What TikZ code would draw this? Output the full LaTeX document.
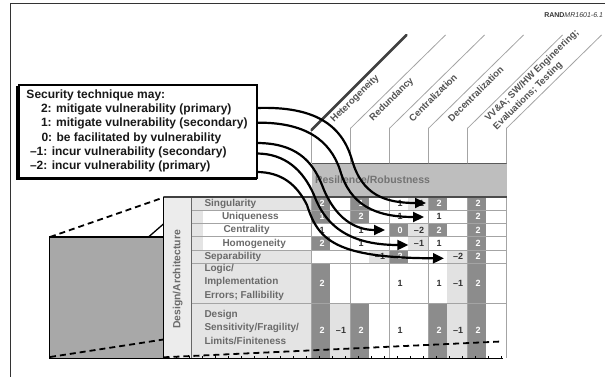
\documentclass[tikz,border=0pt]{standalone}
\usepackage{fontspec}
\setmainfont{Liberation Sans}
\usetikzlibrary{arrows.meta}
\definecolor{darkc}{HTML}{8C8C8C}
\definecolor{lightc}{HTML}{E2E2E2}
\definecolor{labgray}{HTML}{E4E4E4}
\definecolor{dacol}{HTML}{ECECEC}
\definecolor{bargray}{HTML}{BEBEBE}
\definecolor{boxgray}{HTML}{A8A8A8}
\definecolor{txtgray}{HTML}{6A6A6A}
\definecolor{linegray}{HTML}{A4A4A4}
\begin{document}
\begin{tikzpicture}[x=1pt,y=-1pt,
  every node/.style={inner sep=0pt, outer sep=0pt},
  legtxt/.style={anchor=base west, font=\bfseries\fontsize{12}{14}\selectfont, text=black!90},
  rowlbl/.style={anchor=west, font=\bfseries\fontsize{10}{13.4}\selectfont, text=txtgray, align=left},
  collbl/.style={anchor=west, rotate=44.5, font=\bfseries\fontsize{9.5}{11}\selectfont, text=black!68},
  numw/.style={font=\bfseries\fontsize{9}{10}\selectfont, text=white},
  numb/.style={font=\bfseries\fontsize{9}{10}\selectfont, text=black!80},
  gline/.style={linegray, line width=0.8pt},
  hidden/.style={black, line width=1.8pt, dash pattern=on 6pt off 4pt},
  arr/.style={black, line width=2.2pt, -{Triangle[length=11pt,width=10pt]}}]
\useasboundingbox (0,0) rectangle (605,377);
% frame
\draw[black!80, line width=0.8pt] (10,377) -- (10,3) -- (605,3);
\node[anchor=base east, font=\fontsize{7}{8}\selectfont, text=black!80] (rand) at (603,18) {\textbf{RAND}\textit{MR1601-6.1}};
% gray end box
\draw[fill=boxgray, draw=black, line width=1.5pt] (49.5,237) rectangle (163.5,358.3);
\draw[hidden] (50,237) -- (165,197);
\draw[black, line width=1.3pt] (148.5,237) -- (164,223.5);
\draw[hidden] (50,357) -- (163.5,339.5);
% Design/Architecture column
\fill[dacol] (163.5,197) rectangle (191.5,358);
\draw[black, line width=1.2pt] (163.5,197) -- (163.5,358);
\draw[black!60, line width=1.6pt] (191.5,197) -- (191.5,358);
\node[rotate=90, font=\bfseries\fontsize{10.4}{12}\selectfont, text=txtgray] (da) at (177.8,279.5) {Design/Architecture};
% label area
\fill[labgray] (191.5,197) rectangle (311.5,358);
\fill[white] (203,210) rectangle (311.5,250);
% table background
\fill[white] (311.5,197) rectangle (506.5,357.5);
% dark cells (left halves)
\foreach \x/\a/\b/\t [count=\i] in {
  311.5/197/210/2, 311.5/210/223.3/1, 311.5/236.7/250/2, 311.5/263.3/303/2, 311.5/303/357.5/2,
  350.5/197/210/1, 350.5/210/223.3/2, 350.5/303/357.5/2,
  389.5/223.3/236.7/0, 389.5/250/263.3/2,
  428.5/197/210/2, 428.5/223.3/236.7/2, 428.5/303/357.5/2,
  467.5/197/210/2, 467.5/210/223.3/2, 467.5/223.3/236.7/2, 467.5/236.7/250/2,
  467.5/250/263.3/2, 467.5/263.3/303/2, 467.5/303/357.5/2}{
  \fill[darkc] (\x,\a) rectangle ({\x+18.5},\b);
  \node[numw] (dk\i) at ({\x+10.5},{(\a+\b)/2}) {\t};
}
% light cells (right halves)
\foreach \x/\a/\b/\t [count=\i] in {
  311.5/303/357.5/–1, 350.5/250/263.3/–1,
  389.5/197/210/–1, 389.5/223.3/236.7/–2, 389.5/236.7/250/–1,
  428.5/250/263.3/–2, 428.5/263.3/303/–1, 428.5/303/357.5/–1}{
  \fill[lightc] ({\x+18.5},\a) rectangle ({\x+39},\b);
  \node[numb] (lt\i) at ({\x+29.5},{(\a+\b)/2}) {\t};
}
% plain numbers
\foreach \x/\a/\b/\t [count=\i] in {
  311.5/223.3/236.7/1, 350.5/223.3/236.7/1, 350.5/236.7/250/1,
  389.5/197/210/1, 389.5/210/223.3/1, 389.5/263.3/303/1, 389.5/303/357.5/1,
  428.5/210/223.3/1, 428.5/236.7/250/1, 428.5/263.3/303/1}{
  \node[numb] (pl\i) at ({\x+10.5},{(\a+\b)/2}) {\t};
}
% grid
\foreach \y in {210,223.3,236.7,250,263.3,303}
  \draw[gline, line width=0.7pt] (191.5,\y) -- (506.5,\y);
\foreach \x in {311.5,350.5,389.5,428.5,467.5,506.5}
  \draw[gline] (\x,197) -- (\x,357.5);
\draw[black!75, line width=1.2pt] (163.5,197) -- (311.5,197);
% row labels
\node[rowlbl] (r1) at (204.5,203.5) {Singularity};
\node[rowlbl] (r2) at (222,216.8) {Uniqueness};
\node[rowlbl] (r3) at (223.5,230.2) {Centrality};
\node[rowlbl] (r4) at (222.5,243.5) {Homogeneity};
\node[rowlbl] (r5) at (204.5,256.7) {Separability};
\node[rowlbl] (r6) at (204.5,282.2) {Logic/\\Implementation\\Errors; Fallibility};
\node[rowlbl] (r7) at (204.5,327.2) {Design\\Sensitivity/Fragility/\\Limits/Finiteness};
% Resilience bar
\fill[bargray] (311.5,163.3) rectangle (506.5,196.7);
\draw[black!65, line width=1.3pt] (311.5,163.3) -- (506.5,163.3);
\draw[black!70, line width=1.8pt] (311.5,196.7) -- (506.5,196.7);
\node[anchor=west, font=\bfseries\fontsize{10.5}{12}\selectfont, text=black!55] (rr) at (315,180) {Resilience/Robustness};
% column heads
\draw[gline] (311.5,163.3) -- (311.5,130);
\draw[black!75, line width=2.6pt, line cap=round] (311.5,130) -- (406.5,35);
\foreach \x in {350.5,389.5,428.5,467.5,506.5}
  \draw[gline] (\x,163.3) -- (\x,128.3) -- ++(95,-93.3);
\node[collbl] (h1) at (332.5,121) {Heterogeneity};
\node[collbl] (h2) at (371.5,119.6) {Redundancy};
\node[collbl] (h3) at (410.5,119.6) {Centralization};
\node[collbl] (h4) at (449.5,119.6) {Decentralization};
\node[collbl] (h5) at (487,120) {VV\&A; SW/HW Engineering;};
\node[collbl] (h6) at (495.2,128.3) {Evaluations; Testing};
% bottom axis
\draw[black, line width=1.5pt] (49.5,358.3) -- (503,358.3);
\foreach \t in {176,189,...,502}
  \draw[black, line width=0.8pt] (\t,358.3) -- (\t,355.5);
\draw[hidden] (163.5,357.3) -- (501,341.5);
% legend
\draw[black, line width=1.3pt] (17,86) -- (17,179.3) -- (256.5,179.3);
\node[draw=black, line width=2pt, fill=white, minimum width=238pt, minimum height=92pt, anchor=north west] (legend) at (18.5,85.5) {};
\node[legtxt] (l0) at (26.5,98.8) {Security technique may:};
\node[legtxt] (l1) at (41,112.8) {2: mitigate vulnerability (primary)};
\node[legtxt] (l2) at (41,126.8) {1: mitigate vulnerability (secondary)};
\node[legtxt] (l3) at (41.5,141.1) {0: be facilitated by vulnerability};
\node[legtxt] (l4) at (30,155.3) {–1: incur vulnerability (secondary)};
\node[legtxt] (l5) at (30,169.3) {–2: incur vulnerability (primary)};
% arrows
\coordinate (s1) at (256.5,108);
\coordinate (s2) at (256.5,122.7);
\coordinate (s3) at (256.5,143);
\coordinate (s4) at (256.5,153.5);
\coordinate (s5) at (256.5,172);
\coordinate (t1) at (426,203);
\coordinate (t2) at (424,217);
\coordinate (t3) at (385,230);
\coordinate (t4) at (408.3,245);
\coordinate (t5) at (444,258.3);
\draw[arr] (s1) .. controls (315,106) and (342,125) .. (352,160) .. controls (362,195) and (385,203) .. (t1);
\draw[arr] (s2) .. controls (305,122) and (330,140) .. (340,170) .. controls (350,205) and (375,217) .. (t2);
\draw[arr] (s3) .. controls (295,143) and (312,160) .. (322,185) .. controls (332,212) and (350,230) .. (t3);
\draw[arr] (s4) .. controls (285,153.5) and (303,170) .. (314,195) .. controls (324,222) and (345,245) .. (t4);
\draw[arr] (s5) .. controls (282,172) and (297,185) .. (307,205) .. controls (318,240) and (335,258) .. (t5);
\end{tikzpicture}
\end{document}
